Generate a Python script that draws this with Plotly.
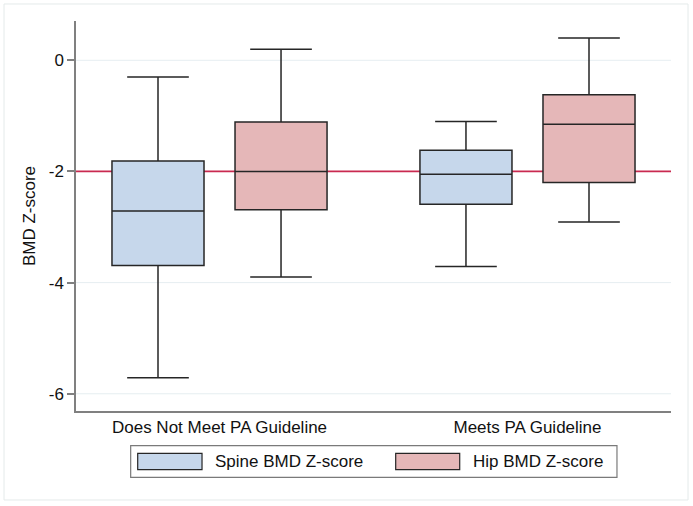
import plotly.graph_objects as go

categories = ["Does Not Meet PA Guideline", "Meets PA Guideline"]

spine_lower = [-5.71, -3.71]
spine_q1 = [-3.69, -2.59]
spine_median = [-2.71, -2.05]
spine_q3 = [-1.81, -1.62]
spine_upper = [-0.30, -1.10]

hip_lower = [-3.90, -2.91]
hip_q1 = [-2.69, -2.20]
hip_median = [-2.00, -1.15]
hip_q3 = [-1.11, -0.62]
hip_upper = [0.20, 0.40]

reference_line = -2
y_ticks = [0, -2, -4, -6]
series_names = ["Spine BMD Z-score", "Hip BMD Z-score"]

FONT = "Liberation Sans, Arial, Helvetica, sans-serif"
FS = 17
SPINE_FILL = "#c6d7eb"
HIP_FILL = "#e5b7b8"
OUTLINE = "#262626"

fig = go.Figure()
fig.add_trace(go.Box(
    x=categories, q1=spine_q1, median=spine_median, q3=spine_q3,
    lowerfence=spine_lower, upperfence=spine_upper,
    name=series_names[0], fillcolor=SPINE_FILL,
    line=dict(color=OUTLINE, width=1.5), whiskerwidth=0.67,
    boxpoints=False, showlegend=False, hoverinfo="skip",
))
fig.add_trace(go.Box(
    x=categories, q1=hip_q1, median=hip_median, q3=hip_q3,
    lowerfence=hip_lower, upperfence=hip_upper,
    name=series_names[1], fillcolor=HIP_FILL,
    line=dict(color=OUTLINE, width=1.5), whiskerwidth=0.67,
    boxpoints=False, showlegend=False, hoverinfo="skip",
))

# light horizontal gridlines (the one at the reference value is covered by the red line)
shapes = [
    dict(type="line", xref="paper", x0=0, x1=1, yref="y", y0=v, y1=v,
         line=dict(color="#e6eef1", width=1), layer="below")
    for v in y_ticks if v != reference_line
]
shapes += [
    # reference line
    dict(type="line", xref="paper", x0=0, x1=1, yref="y", y0=reference_line, y1=reference_line,
         line=dict(color="#c92a50", width=1.8), layer="below"),
    # outer frame
    dict(type="rect", xref="paper", yref="paper", x0=-0.121, x1=1.0286, y0=-0.2282, y1=1.0436,
         line=dict(color="#e4eaea", width=1), layer="below"),
    # legend frame
    dict(type="rect", xref="paper", yref="paper", x0=0.0919, x1=0.9092, y0=-0.170, y1=-0.089,
         line=dict(color="#7a7a7a", width=1.2), fillcolor="white"),
    # legend swatches
    dict(type="rect", xref="paper", yref="paper", x0=0.1037, x1=0.2118, y0=-0.1505, y1=-0.1085,
         line=dict(color=OUTLINE, width=1.2), fillcolor=SPINE_FILL),
    dict(type="rect", xref="paper", yref="paper", x0=0.5373, x1=0.6449, y0=-0.1505, y1=-0.1085,
         line=dict(color=OUTLINE, width=1.2), fillcolor=HIP_FILL),
]

annotations = [
    dict(xref="paper", yref="paper", x=0.2308, y=-0.1295, text=series_names[0], showarrow=False,
         xanchor="left", yanchor="middle", font=dict(family=FONT, size=FS, color="#111")),
    dict(xref="paper", yref="paper", x=0.6639, y=-0.1295, text=series_names[1], showarrow=False,
         xanchor="left", yanchor="middle", font=dict(family=FONT, size=FS, color="#111")),
]

fig.update_layout(
    width=693, height=506,
    margin=dict(l=76, r=22, t=21, b=95),
    paper_bgcolor="white", plot_bgcolor="white",
    boxmode="group", boxgap=0.201, boxgroupgap=0.252,
    font=dict(family=FONT, size=FS, color="#111"),
    shapes=shapes, annotations=annotations,
    showlegend=False,
)
fig.update_xaxes(
    type="category", range=[-0.466, 1.466],
    showline=True, linecolor="#808080", linewidth=1.5,
    showgrid=False, ticks="", zeroline=False,
    tickfont=dict(family=FONT, size=FS, color="#111"),
    fixedrange=True,
)
fig.update_yaxes(
    range=[-6.31, 0.707], tickvals=y_ticks, ticktext=[str(v) for v in y_ticks],
    showline=True, linecolor="#808080", linewidth=1.5,
    ticks="outside", ticklen=7, tickwidth=1.5, tickcolor="#808080",
    showgrid=False, zeroline=False,
    title=dict(text="BMD Z-score", font=dict(family=FONT, size=FS, color="#111"), standoff=9),
    tickfont=dict(family=FONT, size=FS, color="#111"),
    fixedrange=True,
)

fig.write_html(
    "out.html",
    config={"displayModeBar": False},
    post_script="document.body.style.margin='0';document.body.style.padding='0';",
)
